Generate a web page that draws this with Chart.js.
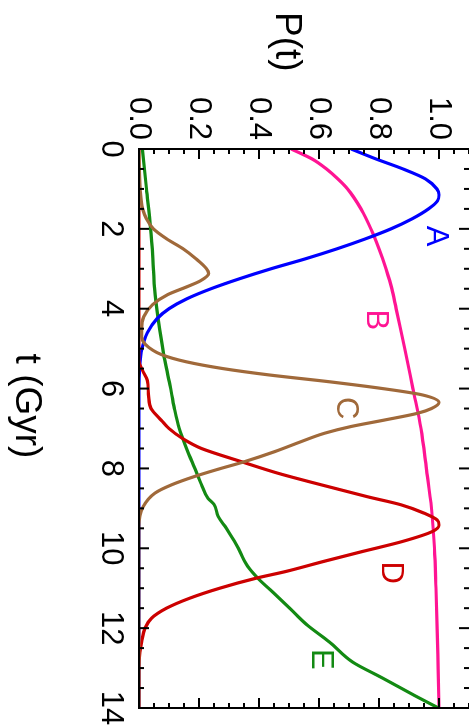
<!DOCTYPE html>
<html>
<head>
<meta charset="utf-8">
<script src="https://cdn.jsdelivr.net/npm/chart.js@4.4.1/dist/chart.umd.min.js"></script>
<style>
  html, body { margin: 0; padding: 0; background: #fff; overflow: hidden; }
  /* the plot is drawn landscape and turned a quarter clockwise */
  #turn {
    position: absolute; left: 0; top: 0; width: 728px; height: 469px;
    transform-origin: 0 0; transform: translateX(469px) rotate(90deg);
  }
</style>
</head>
<body>
<div id="turn"><canvas id="graph" width="728" height="469"></canvas></div>
<script>
// tick labels
const T_TICKS = [0, 2, 4, 6, 8, 10, 12, 14]
const P_TICKS = [0, 0.2, 0.4, 0.6, 0.8, 1.0]

// A (blue)
const tA = [0, 0.25, 0.5, 0.75, 1.0, 1.15, 1.3, 1.5, 1.75, 2.0, 2.25, 2.5, 2.75, 3.0, 3.25, 3.5, 3.75, 4.0, 4.25, 4.6, 5.0, 5.5, 6, 10, 14]
const pA = [0.707, 0.79, 0.88, 0.955, 0.993, 1.0, 0.995, 0.965, 0.91, 0.84, 0.755, 0.66, 0.555, 0.44, 0.335, 0.24, 0.16, 0.10, 0.06, 0.028, 0.01, 0.002, 0, 0, 0]

// B (magenta)
const tB = [0, 0.25, 0.5, 0.75, 1.0, 1.5, 2, 2.5, 3, 3.5, 4, 5, 6, 7, 8, 9, 10, 11, 12, 13, 14]
const pB = [0.507, 0.577, 0.625, 0.663, 0.695, 0.74, 0.773, 0.80, 0.823, 0.843, 0.857, 0.886, 0.913, 0.94, 0.958, 0.975, 0.985, 0.99, 0.994, 0.997, 1.0]

// C (brown)
const tC = [0, 1.0, 1.5, 1.75, 2.0, 2.25, 2.5, 2.75, 3.0, 3.12, 3.3, 3.45, 3.65, 3.9, 4.2, 4.5, 4.7, 4.9, 5.15, 5.33, 5.5, 5.66, 5.83, 6.0, 6.16, 6.35, 6.5, 6.62, 6.79, 6.95, 7.12, 7.33, 7.58, 7.83, 8.02, 8.2, 8.41, 8.62, 8.96, 9.46, 14]
const pC = [0, 0.004, 0.012, 0.025, 0.048, 0.092, 0.147, 0.19, 0.225, 0.232, 0.205, 0.16, 0.095, 0.045, 0.016, 0.009, 0.009, 0.022, 0.075, 0.158, 0.28, 0.435, 0.635, 0.812, 0.945, 1.0, 0.975, 0.928, 0.817, 0.707, 0.618, 0.54, 0.452, 0.352, 0.264, 0.186, 0.109, 0.053, 0.014, 0, 0]

// D (red)
const tD = [0, 5.3, 5.55, 5.8, 6.2, 6.5, 6.8, 7.0, 7.25, 7.5, 7.83, 8.12, 8.41, 8.71, 8.91, 9.12, 9.29, 9.42, 9.58, 9.83, 10.08, 10.33, 10.58, 10.75, 11.0, 11.25, 11.5, 11.75, 12.0, 12.34, 12.6, 13, 14]
const pD = [0, 0, 0.012, 0.028, 0.032, 0.04, 0.075, 0.1, 0.145, 0.208, 0.341, 0.463, 0.607, 0.762, 0.873, 0.95, 0.994, 1.0, 0.978, 0.878, 0.745, 0.615, 0.49, 0.39, 0.269, 0.169, 0.092, 0.042, 0.02, 0.009, 0.003, 0, 0]

// E (green)
const tE = [0, 1, 2, 3, 3.5, 4.25, 5.1, 5.9, 6.5, 7.0, 7.5, 8.1, 8.4, 8.75, 8.9, 9.2, 9.5, 9.9, 10.45, 10.75, 11.1, 11.5, 11.9, 12.35, 12.85, 13.25, 13.7, 14]
const pE = [0.011, 0.025, 0.039, 0.048, 0.052, 0.064, 0.081, 0.103, 0.118, 0.134, 0.158, 0.192, 0.208, 0.23, 0.25, 0.264, 0.291, 0.324, 0.362, 0.396, 0.446, 0.502, 0.557, 0.635, 0.712, 0.812, 0.922, 0.998]

// curve names and where they sit (t, P)
const NAMES = ['A', 'B', 'C', 'D', 'E']
const nameT = [2.18, 4.28, 6.49, 10.61, 12.78]
const nameP = [0.987, 0.787, 0.689, 0.837, 0.606]

const COLOURS = {
  A: '#0000FF',
  B: '#FF1493',
  C: '#A0693A',
  D: '#CC0000',
  E: '#138A13',
}

const FONT = '"Liberation Sans", Arial, Helvetica, sans-serif'

function pairs(ts, ps) {
  return ts.map((t, i) => ({ x: t, y: ps[i] }))
}

function curve(name, ts, ps) {
  return {
    label: name,
    data: pairs(ts, ps),
    borderColor: COLOURS[name],
    backgroundColor: COLOURS[name],
    borderWidth: 3.2,
    pointRadius: 0,
    cubicInterpolationMode: 'monotone',
    fill: false,
  }
}

// frame, inward ticks, axis titles and curve names
const decorations = {
  id: 'decorations',
  afterDraw(chart) {
    const ctx = chart.ctx
    const xs = chart.scales.x
    const ys = chart.scales.y
    const { left, right, top, bottom } = chart.chartArea

    ctx.save()
    ctx.strokeStyle = '#000'
    ctx.lineWidth = 2
    ctx.beginPath()
    ctx.moveTo(left, top); ctx.lineTo(left, bottom)
    ctx.lineTo(right, bottom); ctx.lineTo(right, top)
    ctx.stroke()

    // t ticks every 0.5, long at every 2
    for (let k = 0; k <= 28; k++) {
      const px = xs.getPixelForValue(k * 0.5)
      const len = k % 4 === 0 ? 10 : 5
      ctx.beginPath()
      ctx.moveTo(px, bottom); ctx.lineTo(px, bottom - len)
      ctx.moveTo(px, top); ctx.lineTo(px, top + len)
      ctx.stroke()
    }
    // P ticks every 0.05, long at every 0.2
    for (let k = 0; k <= 22; k++) {
      const py = ys.getPixelForValue(k * 0.05)
      const len = k % 4 === 0 ? 10 : 5
      ctx.beginPath()
      ctx.moveTo(left, py); ctx.lineTo(left + len, py)
      ctx.moveTo(right, py); ctx.lineTo(right - len, py)
      ctx.stroke()
    }

    ctx.fillStyle = '#000'
    ctx.font = '37px ' + FONT
    ctx.textBaseline = 'middle'
    ctx.textAlign = 'left'
    ctx.fillText('P(t)', 12, 183)
    ctx.textAlign = 'center'
    ctx.fillText('t (Gyr)', 406, 443)

    ctx.font = '31px ' + FONT
    NAMES.forEach((n, i) => {
      ctx.fillStyle = COLOURS[n]
      ctx.fillText(n, xs.getPixelForValue(nameT[i]), ys.getPixelForValue(nameP[i]))
    })
    ctx.restore()
  },
}

const ctx = document.getElementById('graph').getContext('2d')

const graph = new Chart(ctx, {
  type: 'line',
  data: {
    datasets: [
      curve('C', tC, pC),
      curve('D', tD, pD),
      curve('A', tA, pA),
      curve('E', tE, pE),
      curve('B', tB, pB),
    ],
  },
  options: {
    responsive: false,
    animation: false,
    devicePixelRatio: 1,
    layout: { padding: { left: 0, right: 20, top: 0, bottom: 0 } },
    plugins: {
      legend: { display: false },
      tooltip: { enabled: false },
    },
    scales: {
      x: {
        type: 'linear',
        min: 0,
        max: 14,
        grid: { display: false, drawTicks: false },
        border: { display: false },
        afterBuildTicks: (scale) => { scale.ticks = T_TICKS.map((v) => ({ value: v })) },
        afterFit: (scale) => {
          scale.height = 139
          scale.paddingLeft = 0
          scale.paddingRight = 0
        },
        ticks: {
          color: '#000',
          padding: 10,
          maxRotation: 0,
          font: { family: FONT, size: 31 },
          callback: (v) => String(v),
        },
      },
      y: {
        type: 'linear',
        min: 0,
        max: 1.1,
        grid: { display: false, drawTicks: false },
        border: { display: false },
        afterBuildTicks: (scale) => { scale.ticks = P_TICKS.map((v) => ({ value: v })) },
        afterFit: (scale) => {
          scale.width = 149
          scale.paddingTop = 0
          scale.paddingBottom = 0
        },
        ticks: {
          color: '#000',
          padding: 9,
          font: { family: FONT, size: 31 },
          callback: (v) => v.toFixed(1),
        },
      },
    },
  },
  plugins: [decorations],
})
</script>
</body>
</html>
